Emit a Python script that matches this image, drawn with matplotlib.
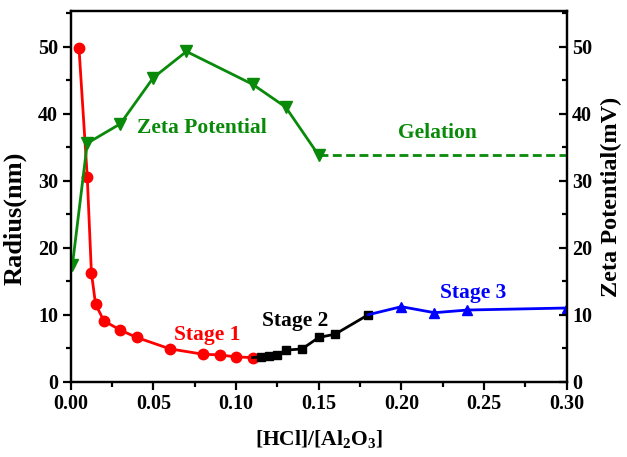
import matplotlib
matplotlib.use("Agg")
import matplotlib.pyplot as plt
from matplotlib.ticker import MultipleLocator

plt.rcParams['font.family'] = ['Liberation Serif', 'DejaVu Serif']
plt.rcParams['font.weight'] = 'bold'
plt.rcParams['mathtext.fontset'] = 'custom'
plt.rcParams['mathtext.rm'] = 'Liberation Serif:bold'
plt.rcParams['mathtext.bf'] = 'Liberation Serif:bold'

# Stage 1 (radius, nm)
stage1_x = [0.005, 0.01, 0.0125, 0.015, 0.02, 0.03, 0.04, 0.06, 0.08, 0.09, 0.10, 0.11]
stage1_y = [49.8, 30.6, 16.3, 11.6, 9.1, 7.7, 6.6, 4.9, 4.1, 4.0, 3.7, 3.6]
# Stage 2
stage2_x = [0.115, 0.12, 0.125, 0.13, 0.14, 0.15, 0.16, 0.18]
stage2_y = [3.7, 3.9, 4.0, 4.7, 4.9, 6.6, 7.1, 10.0]
# Stage 3
stage3_x = [0.20, 0.22, 0.24, 0.30]
stage3_y = [11.2, 10.3, 10.7, 11.0]
# Zeta potential (mV)
zeta_x = [0.001, 0.01, 0.03, 0.05, 0.07, 0.11, 0.13, 0.15]
zeta_y = [17.4, 35.6, 38.5, 45.4, 49.3, 44.4, 41.0, 33.8]
# Gelation plateau
gel_x = [0.15, 0.30]
gel_y = [33.8, 33.8]

x_ticks = [0.00, 0.05, 0.10, 0.15, 0.20, 0.25, 0.30]
x_ticklabels = ['0.00', '0.05', '0.10', '0.15', '0.20', '0.25', '0.30']
y_ticks = [0, 10, 20, 30, 40, 50]

RED = '#ff0000'
BLUE = '#0000ff'
GREEN = '#0a8a0a'

fig = plt.figure(figsize=(6.27, 4.57), dpi=100)
ax = fig.add_axes([0.1128, 0.1648, 0.7910, 0.8105])
ax2 = ax.twinx()

lw = 2.0
# Radius series
ax.plot(stage1_x, stage1_y, color=RED, lw=lw, marker='o', ms=7.5, zorder=3)
ax.plot([stage1_x[-1]] + stage2_x, [stage1_y[-1]] + stage2_y, color='black', lw=lw,
        marker='s', ms=5.5, markevery=list(range(1, len(stage2_x) + 1)), zorder=3)
ax.plot([stage2_x[-1]] + stage3_x, [stage2_y[-1]] + stage3_y, color=BLUE, lw=lw,
        marker='^', ms=7, markevery=list(range(1, len(stage3_x) + 1)), zorder=3)

# Zeta series
ax2.plot(zeta_x, zeta_y, color=GREEN, lw=lw, marker='v', ms=8)
ax2.plot(gel_x, gel_y, color=GREEN, lw=lw, ls=(0, (3.2, 1.6)))

ylim = (0, 55.3)
ax.set_xlim(0, 0.30)
ax.set_ylim(*ylim)
ax2.set_ylim(*ylim)

ax.set_xticks(x_ticks)
ax.set_xticklabels(x_ticklabels)
ax.xaxis.set_minor_locator(MultipleLocator(0.025))
ax.set_yticks(y_ticks)
ax.yaxis.set_minor_locator(MultipleLocator(5))
ax2.set_yticks(y_ticks)
ax2.yaxis.set_minor_locator(MultipleLocator(5))

for a in (ax, ax2):
    for s in a.spines.values():
        s.set_linewidth(1.6)

ax.tick_params(axis='both', which='major', direction='out', length=6, width=1.6,
               labelsize=14.5, pad=3)
ax.tick_params(axis='both', which='minor', direction='out', length=3.5, width=1.6)
ax2.tick_params(axis='y', which='major', direction='in', length=6, width=1.6,
                labelsize=14.5, pad=4)
ax2.tick_params(axis='y', which='minor', direction='in', length=3.5, width=1.6)

ax.set_xlabel(r'[HCl]/[Al$_2$O$_3$]', fontsize=15.5, fontweight='bold', labelpad=10)
ax.set_ylabel('Radius(nm)', fontsize=19, fontweight='bold', va='center', ha='center')
ax.yaxis.set_label_coords(-0.112, 0.44)
ax2.set_ylabel('Zeta Potential(mV)', fontsize=17.5, fontweight='bold', labelpad=6)

ax.text(0.0794, 37.9, 'Zeta Potential', color=GREEN, fontsize=15.5, fontweight='bold',
        ha='center', va='center')
ax.text(0.2217, 37.1, 'Gelation', color=GREEN, fontsize=15.5, fontweight='bold',
        ha='center', va='center')
ax.text(0.0827, 7.0, 'Stage 1', color=RED, fontsize=15.5, fontweight='bold',
        ha='center', va='center')
ax.text(0.1357, 9.0, 'Stage 2', color='black', fontsize=15.5, fontweight='bold',
        ha='center', va='center')
ax.text(0.2436, 13.2, 'Stage 3', color=BLUE, fontsize=15.5, fontweight='bold',
        ha='center', va='center')

fig.savefig('out.png', dpi=100)
